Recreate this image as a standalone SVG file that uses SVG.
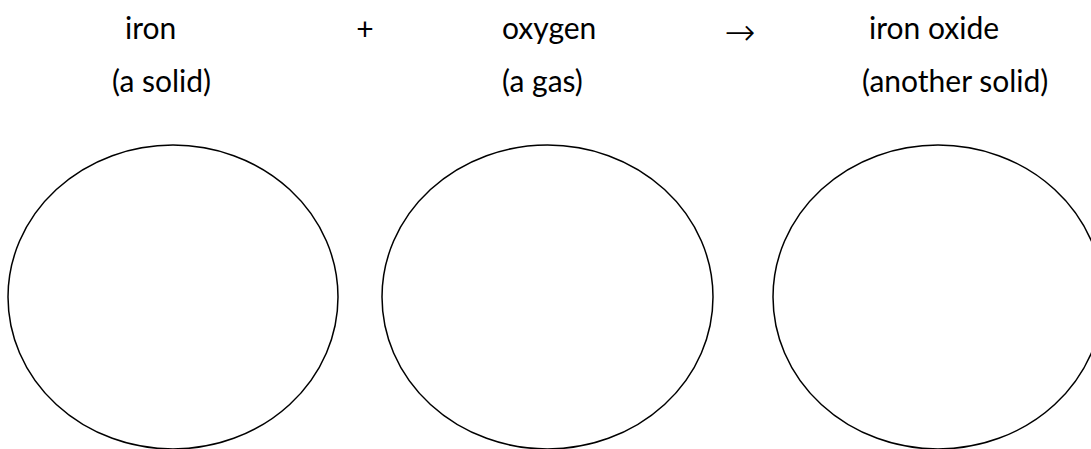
<svg xmlns="http://www.w3.org/2000/svg" width="1091" height="449" viewBox="0 0 1091 449">
<style>
.t{font-family:Lato,"Open Sans","Liberation Sans",sans-serif;font-size:30px;fill:#000}
.s{font-family:"DejaVu Sans",sans-serif;font-weight:200;font-size:37px;fill:#000}
.c{fill:none;stroke:#000;stroke-width:1.5}
</style>
<rect width="1091" height="449" fill="#fff"/>
<g id="iron">
<text class="t" x="125" y="39">iron</text>
<text class="t" x="112" y="92">(a solid)</text>
<ellipse class="c" cx="173" cy="297" rx="165" ry="152"/>
</g>
<g id="plus"><text class="t" x="365" y="40" text-anchor="middle">+</text></g>
<g id="oxygen">
<text class="t" x="502" y="39">oxygen</text>
<text class="t" x="502" y="92">(a gas)</text>
<ellipse class="c" cx="547.5" cy="297" rx="165.5" ry="152"/>
</g>
<g id="arrow"><text class="s" x="740" y="45" text-anchor="middle">→</text></g>
<g id="ironoxide">
<text class="t" x="869" y="39">iron oxide</text>
<text class="t" x="862" y="92">(another solid)</text>
<ellipse class="c" cx="938" cy="297" rx="165" ry="152"/>
</g>
<g id="connectors"></g>
</svg>
